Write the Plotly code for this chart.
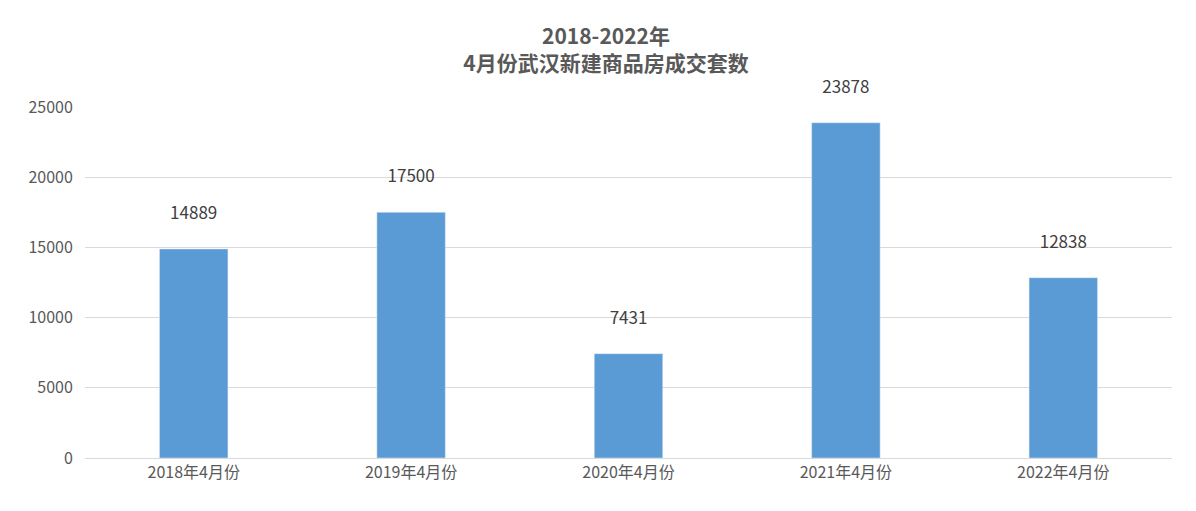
import plotly.graph_objects as go

months = ['2018年4月份', '2019年4月份', '2020年4月份', '2021年4月份', '2022年4月份']
sales = [14889, 17500, 7431, 23878, 12838]

fig = go.Figure(go.Bar(
    x=months, y=sales, marker_color='#5b9bd5',
    text=[f'{v}<br> ' for v in sales], textposition='outside', cliponaxis=False,
    textfont=dict(size=17, color='#404040'),
))

fig.update_layout(
    width=1196, height=511,
    paper_bgcolor='white', plot_bgcolor='white',
    font=dict(family='Noto Sans CJK SC', color='#595959'),
    title=dict(text='<b>2018-2022年<br>4月份武汉新建商品房成交套数</b>',
               x=0.5, xanchor='center', y=0.93, yanchor='top',
               font=dict(size=21, color='#595959')),
    margin=dict(l=77, r=32, t=99, b=61),
    bargap=0.685,
    showlegend=False,
)
fig.update_yaxes(range=[0, 25000], dtick=5000, tickformat='d', gridcolor='#d9d9d9',
                 tickfont=dict(size=16), zeroline=False, ticks='outside', ticklen=8,
                 tickcolor='white')
fig.update_xaxes(showline=True, linecolor='#d9d9d9', tickfont=dict(size=16))

fig.write_html('out.html')
